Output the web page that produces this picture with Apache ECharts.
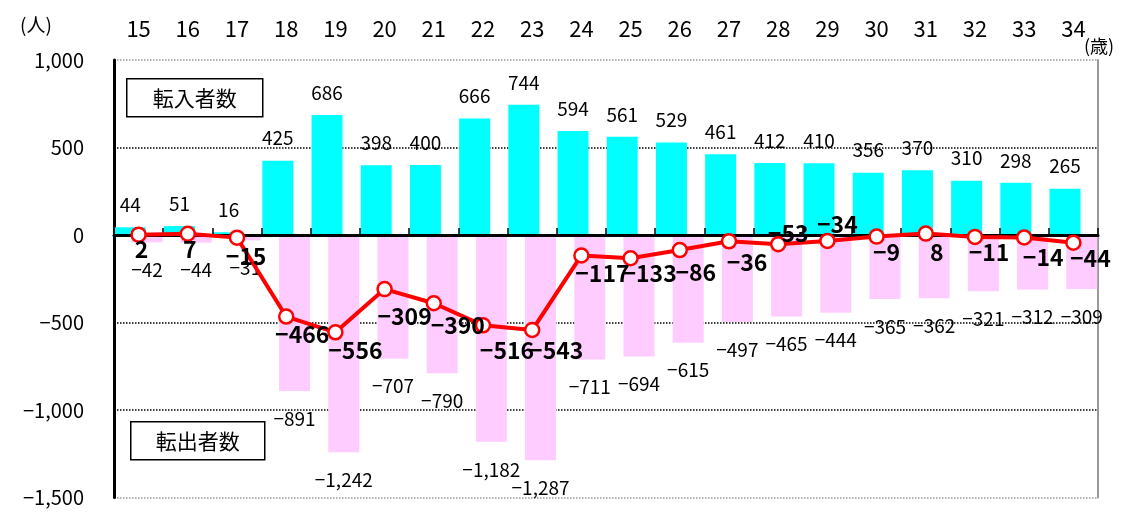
<!DOCTYPE html>
<html>
<head>
<meta charset="utf-8">
<script src="https://cdn.jsdelivr.net/npm/echarts@6/dist/echarts.min.js"></script>
<style>
html,body{margin:0;padding:0;background:#fff;}
#c{width:1121px;height:512px;}
</style>
</head>
<body>
<div id="c"></div>
<script>
const categories = ['15','16','17','18','19','20','21','22','23','24','25','26','27','28','29','30','31','32','33','34'];
const inflow = [44,51,16,425,686,398,400,666,744,594,561,529,461,412,410,356,370,310,298,265];
const outflow = [-42,-44,-31,-891,-1242,-707,-790,-1182,-1287,-711,-694,-615,-497,-465,-444,-365,-362,-321,-312,-309];
const net = [2,7,-15,-466,-556,-309,-390,-516,-543,-117,-133,-86,-36,-53,-34,-9,8,-11,-14,-44];
const yTicks = [-1500,-1000,-500,0,500,1000];

// label placement (style only)
const netLabelOffsets = [[3,15],[2,15],[9,19],[16,18],[20,18],[20,27],[24,22],[24,25],[24,20],[21,18],[19,15],[16,22],[18,21],[10,-11],[10,-17],[10,16],[11,19],[14,15],[19,20],[17,16]];

const FONT = "'Noto Sans CJK JP', 'Noto Sans', sans-serif";
function fmt(v){
  const s = Math.abs(v).toString().replace(/\B(?=(\d{3})+(?!\d))/g, ',');
  return (v < 0 ? '−' : '') + s;
}

const chart = echarts.init(document.getElementById('c'), null, {renderer:'canvas'});
const option = {
  animation: false,
  backgroundColor: '#fff',
  textStyle: {fontFamily: FONT},
  grid: {left:114, right:23, top:60, bottom:14.5, containLabel:false},
  xAxis: [
    {
      type:'category', data: categories, position:'bottom', z: 2,
      axisLine:{show:true, onZero:true, lineStyle:{color:'#000', width:3}},
      axisTick:{show:true, inside:true, length:7, lineStyle:{color:'#000', width:1.5}},
      axisLabel:{show:false},
      splitLine:{show:false}
    },
    {
      type:'category', data: categories, position:'top',
      axisLine:{show:false, onZero:false},
      axisTick:{show:false},
      axisLabel:{show:true, fontSize:22, color:'#000', margin:20, fontFamily:FONT},
      splitLine:{show:false}
    }
  ],
  yAxis: [
    {
      type:'value', min: yTicks[0], max: yTicks[yTicks.length-1], interval: 500, position:'left',
      axisLine:{show:true, lineStyle:{color:'#000', width:3}},
      axisTick:{show:false},
      axisLabel:{fontSize:20, color:'#000', margin:30, fontFamily:FONT, formatter: v => fmt(v)},
      splitLine:{show:true, lineStyle:{type:'dotted', width:1.5, color:['#999','#000','#000','#000','#000','#999']}}
    },
    {
      type:'value', min: yTicks[0], max: yTicks[yTicks.length-1], interval: 500, position:'right',
      axisLine:{show:true, lineStyle:{color:'#999', width:2}},
      axisTick:{show:false}, axisLabel:{show:false}, splitLine:{show:false}
    }
  ],
  series: [
    {
      name:'転入者数', type:'bar', data: inflow, xAxisIndex:0, yAxisIndex:0, z:1,
      barWidth:31, barGap:'-46%',
      itemStyle:{color:'#00FFFF'},
      label:{show:true, position:'top', distance:13, fontSize:19, color:'#000', fontFamily:FONT, formatter: p => fmt(p.value)}
    },
    {
      name:'転出者数', type:'bar', data: outflow, xAxisIndex:0, yAxisIndex:0, z:1,
      barWidth:31, barGap:'-46%',
      itemStyle:{color:'#FFCCFF'},
      label:{show:true, position:'bottom', distance:18, fontSize:19, color:'#000', fontFamily:FONT, formatter: p => fmt(p.value)}
    },
    {
      name:'純移動', type:'line', xAxisIndex:0, yAxisIndex:0, z:3,
      data: net.map((v,i) => ({value:v, label:{offset: netLabelOffsets[i]}})),
      symbol:'circle', symbolSize:14,
      lineStyle:{color:'#FF0000', width:4},
      itemStyle:{color:'#fff', borderColor:'#FF0000', borderWidth:2.5},
      label:{show:true, position:'inside', align:'center', verticalAlign:'middle', fontSize:23, fontWeight:'bold', color:'#000', fontFamily:FONT, formatter: p => fmt(p.value)}
    }
  ],
  graphic: [
    {type:'text', left:20, top:15, style:{text:'(人)', font:'19px '+FONT, fill:'#000'}},
    {type:'text', left:1084, top:37, style:{text:'(歳)', font:'18px '+FONT, fill:'#000'}},
    {type:'group', left:126, top:78, children:[
      {type:'rect', shape:{x:0,y:0,width:136,height:38}, style:{fill:'#fff', stroke:'#000', lineWidth:1.5}},
      {type:'text', x:68, y:19, style:{text:'転入者数', font:'21px '+FONT, fill:'#000', align:'center', verticalAlign:'middle'}}
    ]},
    {type:'group', left:130, top:421, children:[
      {type:'rect', shape:{x:0,y:0,width:134,height:38}, style:{fill:'#fff', stroke:'#000', lineWidth:1.5}},
      {type:'text', x:67, y:19, style:{text:'転出者数', font:'21px '+FONT, fill:'#000', align:'center', verticalAlign:'middle'}}
    ]}
  ]
};
chart.setOption(option);
</script>
</body>
</html>
